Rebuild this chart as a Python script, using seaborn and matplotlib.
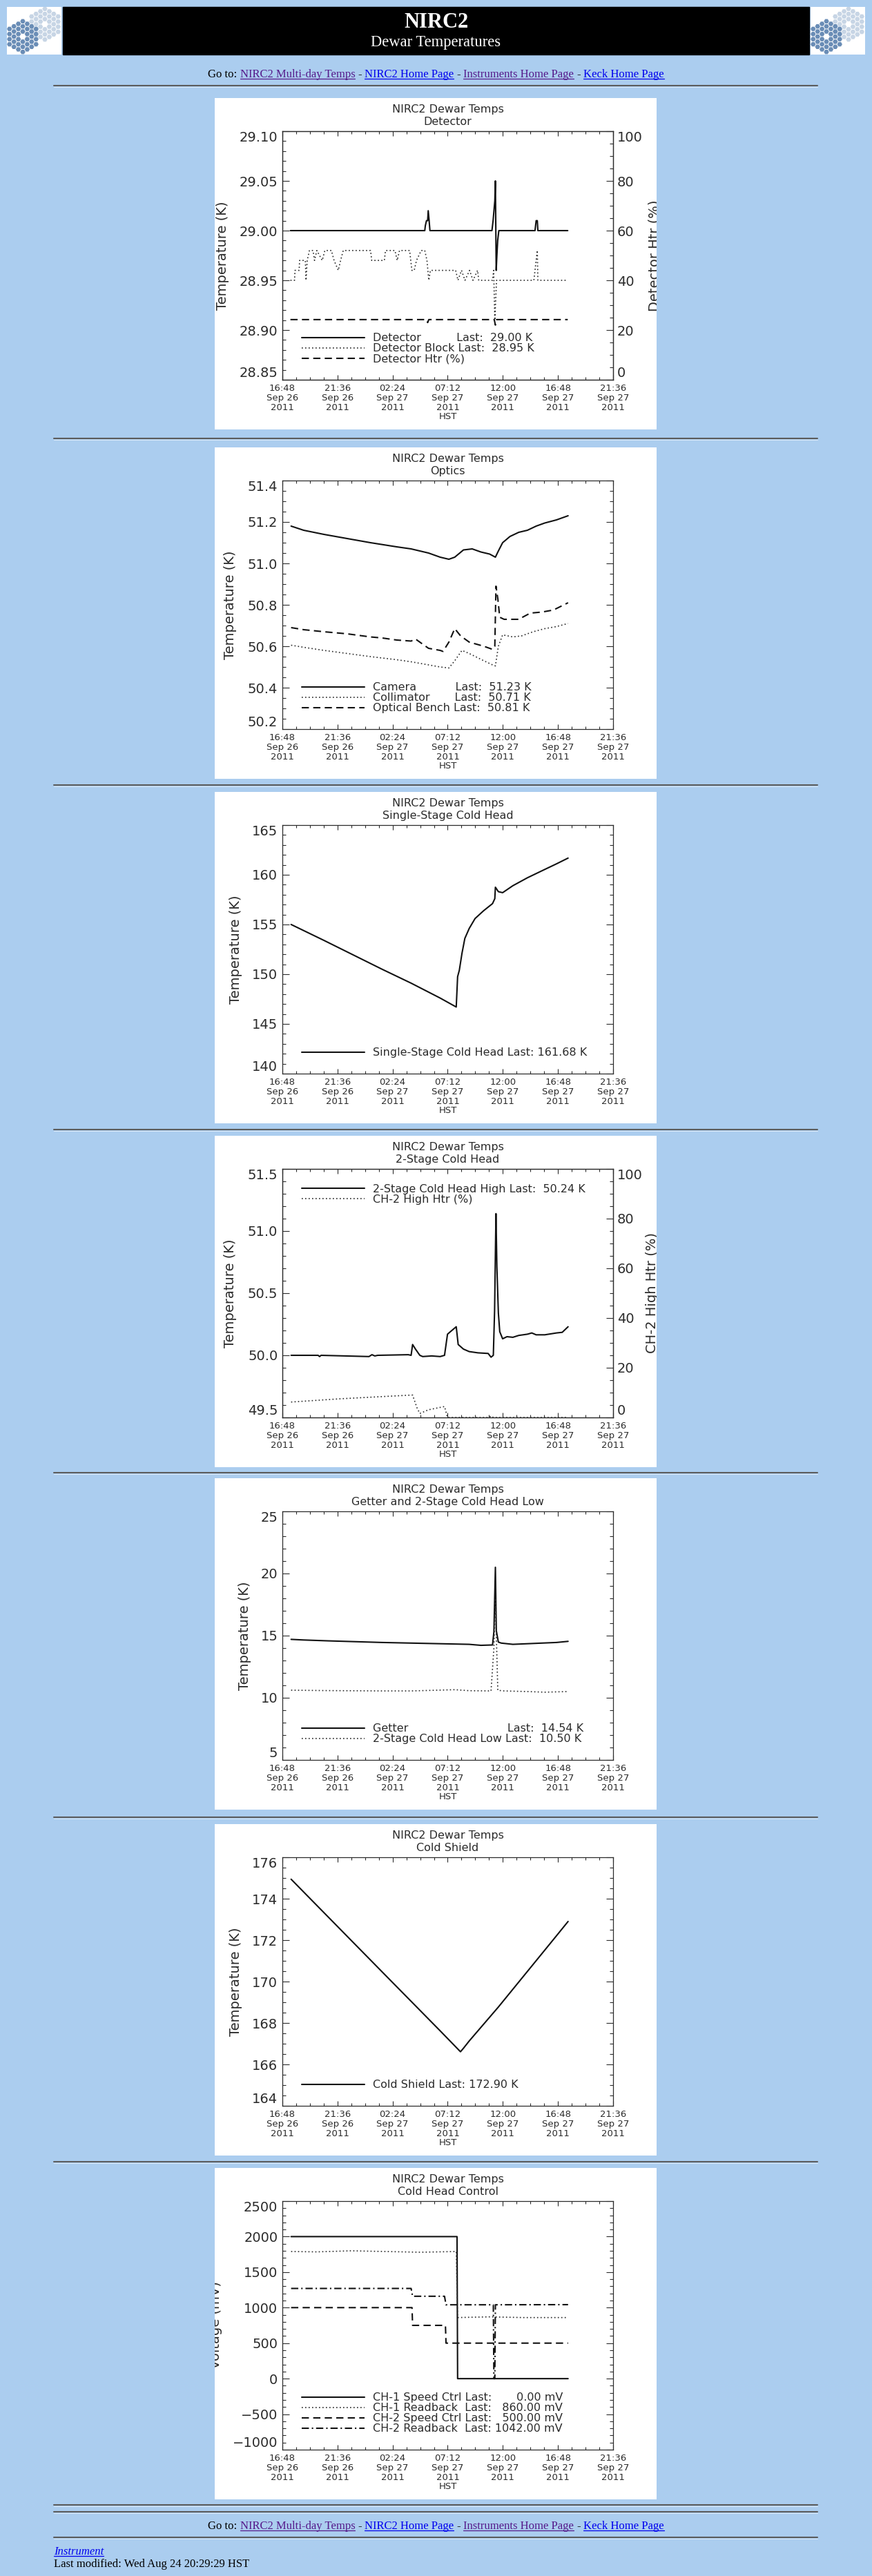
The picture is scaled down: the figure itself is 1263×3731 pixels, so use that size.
import numpy as np
import pandas as pd
import seaborn as sns
import matplotlib.pyplot as plt
import matplotlib.dates as mdates
from matplotlib.patches import Rectangle, RegularPolygon
from matplotlib.lines import Line2D
from matplotlib.ticker import MultipleLocator
from matplotlib.transforms import Bbox, TransformedBbox

W, H = 1263, 3731
BG = '#abcdef'
INK = '#2b2b2b'
LINK = '#0000ee'
VISITED = '#551a8b'
T0 = pd.Timestamp('2011-09-26 16:48')

# ---- data: hours after 16:48 Sep 26 2011 (HST) ----
time_ticks = ['2011-09-26 16:48', '2011-09-26 21:36', '2011-09-27 02:24', '2011-09-27 07:12',
              '2011-09-27 12:00', '2011-09-27 16:48', '2011-09-27 21:36']

# Detector
det_hours = [0.70, 12.40, 12.45, 12.55, 12.65, 12.70, 12.78, 12.85, 18.25, 18.35, 18.50, 18.55, 18.62,
             18.68, 18.75, 18.85, 22.00, 22.05, 22.10, 22.20, 22.25, 24.85]
det_temp = [29.00, 29.00, 29.005, 29.01, 29.01, 29.02, 29.01, 29.00, 29.00, 29.01, 29.03, 29.05, 28.96,
            28.975, 28.99, 29.00, 29.00, 29.005, 29.01, 29.01, 29.00, 29.00]
blk_hours = [0.70, 1.06, 1.10, 1.46, 1.50, 2.00, 2.06, 2.16, 2.36, 2.67, 2.80, 3.00, 3.47, 3.70, 4.27,
             4.50, 4.87, 5.07, 5.30, 7.68, 7.78, 8.88, 8.98, 9.80, 10.00, 10.20, 11.08, 11.28, 11.48,
             11.68, 12.09, 12.40, 12.59, 12.75, 12.89, 15.09, 15.29, 15.60, 15.90, 16.30, 16.60, 17.00,
             17.10, 18.30, 18.40, 18.50, 18.65, 21.90, 22.00, 22.10, 22.20, 22.25, 24.85]
blk_temp = [28.95, 28.95, 28.96, 28.96, 28.97, 28.97, 28.95, 28.97, 28.98, 28.98, 28.97, 28.98, 28.97,
            28.98, 28.98, 28.97, 28.96, 28.97, 28.98, 28.98, 28.97, 28.97, 28.98, 28.98, 28.97, 28.98,
            28.98, 28.96, 28.96, 28.97, 28.98, 28.98, 28.97, 28.95, 28.96, 28.96, 28.95, 28.96, 28.95,
            28.96, 28.95, 28.96, 28.95, 28.95, 28.96, 28.91, 28.95, 28.95, 28.96, 28.97, 28.98, 28.95,
            28.95]
dhtr_hours = [0.70, 12.55, 12.65, 12.75, 18.45, 18.55, 18.65, 24.85]
dhtr_pct = [24.2, 24.2, 23.0, 24.2, 24.2, 22.0, 24.2, 24.2]

# Optics
cam_hours = [0.76, 1.85, 3.62, 5.64, 7.67, 9.95, 11.21, 12.73, 13.74, 14.50, 15.01, 15.77, 16.53,
             17.29, 18.05, 18.55, 18.81, 19.18, 19.82, 20.58, 21.34, 22.10, 22.85, 23.87, 24.88]
cam_temp = [51.18, 51.16, 51.14, 51.12, 51.10, 51.08, 51.07, 51.05, 51.03, 51.02, 51.03, 51.065, 51.07,
            51.055, 51.045, 51.03, 51.06, 51.10, 51.13, 51.15, 51.16, 51.18, 51.195, 51.21, 51.23]
col_hours = [0.76, 1.85, 3.62, 5.64, 7.67, 9.95, 11.21, 12.73, 13.74, 14.50, 15.01, 15.64, 16.27,
             17.54, 18.30, 18.55, 18.81, 19.18, 20.07, 20.83, 21.84, 22.85, 23.87, 24.88]
col_temp = [50.605, 50.595, 50.58, 50.565, 50.55, 50.535, 50.525, 50.51, 50.50, 50.495, 50.53, 50.58,
            50.565, 50.53, 50.51, 50.505, 50.60, 50.655, 50.645, 50.65, 50.67, 50.685, 50.695, 50.71]
ben_hours = [0.76, 1.85, 3.62, 5.64, 7.67, 8.68, 9.95, 11.21, 11.59, 12.22, 12.73, 13.74, 13.99, 14.50,
             15.01, 15.52, 16.27, 17.54, 18.30, 18.50, 18.60, 18.76, 18.93, 19.31, 20.58, 21.08, 21.59,
             22.60, 23.61, 24.88]
ben_temp = [50.69, 50.68, 50.67, 50.66, 50.645, 50.64, 50.63, 50.625, 50.635, 50.61, 50.59, 50.58,
            50.575, 50.62, 50.685, 50.65, 50.62, 50.60, 50.585, 50.60, 50.89, 50.83, 50.74, 50.73,
            50.73, 50.745, 50.76, 50.765, 50.775, 50.81]

# Single-stage cold head
ss_hours = [0.76, 3.62, 8.68, 11.21, 13.74, 15.14, 15.26, 15.41, 15.64, 15.89, 16.27, 16.78, 17.54,
            18.30, 18.50, 18.55, 18.81, 19.18, 20.07, 21.34, 22.60, 23.87, 24.88]
ss_temp = [155.0, 153.4, 150.5, 149.1, 147.6, 146.7, 149.75, 150.4, 152.1, 153.6, 154.6, 155.6, 156.4,
           157.1, 157.6, 158.75, 158.3, 158.2, 158.9, 159.7, 160.4, 161.1, 161.68]

# 2-stage cold head high + heater
hi_hours = [0.76, 3.11, 3.24, 3.37, 7.54, 7.80, 8.05, 8.30, 10.96, 11.21, 11.34, 11.59, 11.97, 12.22,
            13.00, 13.74, 14.12, 14.38, 14.63, 15.14, 15.31, 15.77, 16.27, 17.03, 17.92, 18.17, 18.37,
            18.48, 18.55, 18.60, 18.68, 18.81, 18.93, 19.18, 19.56, 20.07, 20.58, 21.34, 21.72, 22.10,
            22.85, 23.87, 24.37, 24.88]
hi_temp = [50.0, 50.0, 49.99, 50.0, 49.99, 50.005, 49.995, 50.0, 50.005, 50.0, 50.087, 50.05, 50.0,
           49.99, 49.995, 49.99, 50.0, 50.17, 50.19, 50.23, 50.087, 50.05, 50.03, 50.02, 50.015, 49.985,
           50.0, 50.356, 50.82, 51.14, 50.71, 50.34, 50.19, 50.133, 50.15, 50.145, 50.16, 50.17, 50.18,
           50.165, 50.165, 50.18, 50.185, 50.23]
chtr_hours = [0.76, 5.0, 11.21, 11.34, 11.72, 11.97, 12.73, 14.12, 14.38, 18.00, 18.20, 18.37, 24.88]
chtr_pct = [6.2, 7.5, 9.0, 9.0, 3.9, 1.6, 3.1, 4.4, 0.0, 0.0, 0.6, 0.0, 0.0]

# Getter and 2-stage cold head low
get_hours = [0.76, 1.85, 4.0, 6.15, 8.68, 11.21, 13.74, 16.27, 17.29, 18.30, 18.42, 18.55, 18.63,
             18.81, 19.06, 20.07, 21.34, 22.60, 23.87, 24.88]
get_temp = [14.70, 14.65, 14.58, 14.52, 14.45, 14.40, 14.35, 14.30, 14.22, 14.25, 15.3, 20.5, 15.4,
            14.48, 14.40, 14.30, 14.35, 14.40, 14.45, 14.54]
lo_hours = [0.76, 3.62, 8.68, 11.21, 15.01, 16.27, 18.17, 18.42, 18.55, 18.63, 18.76, 19.31, 21.34,
            22.85, 24.88]
lo_temp = [10.61, 10.58, 10.55, 10.55, 10.65, 10.57, 10.55, 14.0, 18.0, 15.1, 10.6, 10.55, 10.50,
           10.45, 10.50]

# Cold shield
cs_hours = [0.76, 8.68, 13.74, 15.51, 15.77, 16.27, 18.81, 21.34, 23.87, 24.88]
cs_temp = [174.94, 170.47, 167.62, 166.61, 166.78, 167.13, 168.77, 170.49, 172.21, 172.90]

# Cold head control
c1s_hours = [0.76, 15.21, 15.26, 24.88]
c1s_mv = [2000, 2000, 0, 0]
c1r_hours = [0.76, 3.0, 6.0, 9.0, 12.0, 15.14, 15.20, 15.26, 18.0, 21.0, 24.88]
c1r_mv = [1790, 1785, 1800, 1790, 1780, 1790, 1300, 860, 870, 860, 860]
c2s_hours = [0.76, 11.29, 11.34, 14.20, 14.25, 24.88]
c2s_mv = [1000, 1000, 750, 750, 500, 500]
c2r_hours = [0.76, 11.21, 11.34, 14.12, 14.25, 18.37, 18.42, 18.50, 18.55, 24.88]
c2r_mv = [1270, 1270, 1160, 1160, 1040, 1040, 0, 0, 1040, 1042]

det_yticks = [28.85, 28.90, 28.95, 29.00, 29.05, 29.10]
opt_yticks = [50.2, 50.4, 50.6, 50.8, 51.0, 51.2, 51.4]
ss_yticks = [140, 145, 150, 155, 160, 165]
hi_yticks = [49.5, 50.0, 50.5, 51.0, 51.5]
get_yticks = [5, 10, 15, 20, 25]
cs_yticks = [164, 166, 168, 170, 172, 174, 176]
ctl_yticks = [-1000, -500, 0, 500, 1000, 1500, 2000, 2500]
pct_yticks = [0, 20, 40, 60, 80, 100]

SOLID = '-'
DOT = (0, (1, 2))
DASH = (0, (5, 3))
DASHDOT = (0, (5, 2, 1, 2))

sns.set_theme(style='ticks')
plt.rcParams['font.family'] = ['DejaVu Sans']

fig = plt.figure(figsize=(W / 100, H / 100), dpi=100, facecolor=BG)
renderer = fig.canvas.get_renderer()


def fx(x):
    return x / W


def fy(y):
    return 1 - y / H


def hr(y):
    fig.add_artist(Line2D([fx(78), fx(1184)], [fy(y), fy(y)], transform=fig.transFigure,
                          color='#5c5c5c', lw=1.5))
    fig.add_artist(Line2D([fx(78), fx(1184)], [fy(y + 1.6), fy(y + 1.6)], transform=fig.transFigure,
                          color='#dbe8f6', lw=0.7))


def logo(x0, y0):
    ax = fig.add_axes([fx(x0), fy(y0 + 69), 79 / W, 69 / H])
    ax.set_facecolor('white')
    ax.set_xlim(0, 79)
    ax.set_ylim(69, 0)
    ax.set_xticks([])
    ax.set_yticks([])
    for s in ax.spines.values():
        s.set_visible(False)
    step = 4.27
    for (cx, cy), col in [((55, 25), '#c7d5e5'), ((23, 43), '#6a8db6')]:
        for q in range(-3, 4):
            for r in range(-3, 4):
                ring = max(abs(q), abs(r), abs(q + r))
                if 1 <= ring <= 3:
                    ax.add_patch(RegularPolygon((cx + 1.5 * step * q, cy + np.sqrt(3) * step * (r + q / 2)),
                                                6, radius=3.7, orientation=np.pi / 6, color=col, lw=0))


def text_row(pieces, y_base, x_center=None, x_left=None):
    serif = dict(family='Liberation Serif', fontsize=12)
    a = fig.text(0, 0, 'a a', **serif)
    b = fig.text(0, 0, 'aa', **serif)
    gap = a.get_window_extent(renderer).width - b.get_window_extent(renderer).width
    a.remove()
    b.remove()
    items = []
    for s, col, under, style in pieces:
        t = fig.text(0, fy(y_base), s, color=col, va='baseline', style=style, **serif)
        items.append((t, t.get_window_extent(renderer).width, col, under))
    total = sum(w for _, w, _, _ in items) + gap * (len(items) - 1)
    x = x_left if x_left is not None else x_center - total / 2
    for t, w, col, under in items:
        t.set_x(fx(x))
        if under:
            fig.add_artist(Line2D([fx(x), fx(x + w)], [fy(y_base + 2.3), fy(y_base + 2.3)],
                                  transform=fig.transFigure, color=col, lw=0.9))
        x += w + gap


goto = [('Go to:', 'black', False, 'normal'), ('NIRC2 Multi-day Temps', VISITED, True, 'normal'),
        ('-', 'black', False, 'normal'), ('NIRC2 Home Page', LINK, True, 'normal'),
        ('-', 'black', False, 'normal'), ('Instruments Home Page', VISITED, True, 'normal'),
        ('-', 'black', False, 'normal'), ('Keck Home Page', LINK, True, 'normal')]

# ---- page header ----
logo(10, 10)
logo(1174, 10)
fig.add_artist(Rectangle((fx(91), fy(79)), 1081 / W, 69 / H, transform=fig.transFigure, color='black'))
fig.text(fx(631.5), fy(32), 'NIRC2', ha='center', va='center', color='white',
         family='Liberation Serif', weight='bold', fontsize=22)
fig.text(fx(631.5), fy(62), 'Dewar Temperatures', ha='center', va='center', color='white',
         family='Liberation Serif', fontsize=16.3)
text_row(goto, 112, x_center=631.5)
hr(124)

PX = 311


def to_time(hours):
    return T0 + pd.to_timedelta(hours, unit='h')


def trace(ax, hours, values, style, label):
    dotted = style == DOT
    sns.lineplot(x=to_time(hours), y=values, ax=ax, color='#111111' if not dotted else '#2a2a2a',
                 linestyle=style, linewidth=1.2 if dotted else 1.5, estimator=None, sort=False,
                 legend=False, label=label)


def edge_labels(axis):
    ticks = axis.get_major_ticks()
    for lab in (ticks[0].label1, ticks[0].label2):
        lab.set_va('bottom')
    for lab in (ticks[-1].label1, ticks[-1].label2):
        lab.set_va('top')


def style_y(ax, ticks, minor, fmt, side_pad):
    ax.set_yticks(ticks, labels=[fmt.format(v).replace('-', '\u2212') for v in ticks])
    ax.set_ylim(ticks[0], ticks[-1])
    ax.yaxis.set_minor_locator(MultipleLocator(minor))
    ax.tick_params(axis='y', which='both', direction='in', color=INK, width=0.8)
    ax.tick_params(axis='y', which='major', length=6.9, labelsize=14, pad=side_pad, labelcolor=INK)
    ax.tick_params(axis='y', which='minor', length=3.5)
    for s in ax.spines.values():
        s.set_linewidth(0.9)
        s.set_color(INK)


def panel(top, subtitle, ylabel, ylabel_px, yticks, yminor, yfmt, series, legend_pos, right=None):
    fig.add_artist(Rectangle((fx(PX), fy(top + 480)), 640 / W, 480 / H, transform=fig.transFigure,
                             facecolor='white', edgecolor='none', zorder=-1))
    clip = TransformedBbox(Bbox([[fx(PX), fy(top + 480)], [fx(PX + 640), fy(top)]]), fig.transFigure)
    ax = fig.add_axes([fx(PX + 98), fy(top + 408), 479 / W, 360 / H])
    ax.set_facecolor('white')
    ax2 = ax.twinx() if right else None
    for hours, values, style, label, side in series:
        trace(ax2 if side == 'R' else ax, hours, values, style, label)

    ax.set_xlim(T0, T0 + pd.Timedelta(hours=28.8))
    ax.set_xticks(mdates.date2num(pd.to_datetime(time_ticks).to_pydatetime()))
    ax.xaxis.set_major_formatter(mdates.DateFormatter('%H:%M\n%b %d\n%Y'))
    ax.xaxis.set_minor_locator(MultipleLocator(0.05))
    ax.tick_params(axis='x', which='both', direction='in', top=True, bottom=True, color=INK, width=0.8)
    ax.tick_params(axis='x', which='major', length=5.2, labelsize=9.5, pad=4.2, labelcolor=INK)
    ax.tick_params(axis='x', which='minor', length=2.6)
    style_y(ax, yticks, yminor, yfmt, 4.8)
    ax.tick_params(axis='y', which='both', left=True, right=right is None)
    for lab in ax.get_xticklabels():
        lab.set_linespacing(1.12)
    edge_labels(ax.yaxis)

    ax.set_xlabel('HST', fontsize=9.5, color=INK)
    ax.xaxis.set_label_coords(0.5, (408 - 455) / 360)
    ax.set_ylabel(ylabel, fontsize=14, color=INK)
    ax.yaxis.set_label_coords((ylabel_px - 98) / 479, 0.5)
    ax.yaxis.label.set_clip_box(clip)
    ax.yaxis.label.set_clip_on(True)
    ax.text(0.5, (408 - 25.5) / 360, 'NIRC2 Dewar Temps\n' + subtitle, transform=ax.transAxes,
            ha='center', va='center', fontsize=11.5, color=INK, linespacing=1.25)

    top_ax = ax
    if right:
        rlabel, rlabel_px = right
        style_y(ax2, pct_yticks, 5, '{:.0f}', 4.3)
        ax2.tick_params(axis='y', which='both', right=True, left=False)
        edge_labels(ax2.yaxis)
        ax2.set_ylabel(rlabel, fontsize=14, color=INK)
        ax2.yaxis.set_label_coords((rlabel_px - 98) / 479, 0.5)
        ax2.yaxis.label.set_clip_box(clip)
        ax2.yaxis.label.set_clip_on(True)
        top_ax = ax2

    handles = [ln for a in (ax, ax2) if a is not None for ln in a.get_lines()]
    if legend_pos == 'upper':
        loc, anchor = 'upper left', (0.0585, 0.939)
    else:
        loc, anchor = 'lower left', (0.0585, 0.063)
    top_ax.legend(handles=handles, labels=[h.get_label() for h in handles], loc=loc,
                  bbox_to_anchor=anchor, frameon=False, fontsize=11.5, handlelength=5.7,
                  handletextpad=0.75, labelspacing=0.0, borderpad=0, borderaxespad=0,
                  labelcolor=INK)


panel(142, 'Detector', 'Temperature (K)', 21, det_yticks, 0.01, '{:.2f}',
      [(det_hours, det_temp, SOLID, 'Detector' + ' ' * 10 + 'Last:  29.00 K', 'L'),
       (blk_hours, blk_temp, DOT, 'Detector Block Last:  28.95 K', 'L'),
       (dhtr_hours, dhtr_pct, DASH, 'Detector Htr (%)', 'R')],
      'lower', right=('Detector Htr (%)', 627))
hr(635)
panel(648, 'Optics', 'Temperature (K)', 32, opt_yticks, 0.05, '{:.1f}',
      [(cam_hours, cam_temp, SOLID, 'Camera' + ' ' * 11 + 'Last:  51.23 K', 'L'),
       (col_hours, col_temp, DOT, 'Collimator' + ' ' * 7 + 'Last:  50.71 K', 'L'),
       (ben_hours, ben_temp, DASH, 'Optical Bench Last:  50.81 K', 'L')],
      'lower')
hr(1137)
panel(1147, 'Single-Stage Cold Head', 'Temperature (K)', 40, ss_yticks, 1, '{:.0f}',
      [(ss_hours, ss_temp, SOLID, 'Single-Stage Cold Head Last: 161.68 K', 'L')],
      'lower')
hr(1636)
panel(1645, '2-Stage Cold Head', 'Temperature (K)', 32, hi_yticks, 0.1, '{:.1f}',
      [(hi_hours, hi_temp, SOLID, '2-Stage Cold Head High Last:  50.24 K', 'L'),
       (chtr_hours, chtr_pct, DOT, 'CH-2 High Htr (%)', 'R')],
      'upper', right=('CH-2 High Htr (%)', 624))
hr(2133)
panel(2141, 'Getter and 2-Stage Cold Head Low', 'Temperature (K)', 53, get_yticks, 1, '{:.0f}',
      [(get_hours, get_temp, SOLID, 'Getter' + ' ' * 28 + 'Last:  14.54 K', 'L'),
       (lo_hours, lo_temp, DOT, '2-Stage Cold Head Low Last:  10.50 K', 'L')],
      'lower')
hr(2632)
panel(2642, 'Cold Shield', 'Temperature (K)', 40, cs_yticks, 0.5, '{:.0f}',
      [(cs_hours, cs_temp, SOLID, 'Cold Shield Last: 172.90 K', 'L')],
      'lower')
hr(3131)
panel(3140, 'Cold Head Control', 'Voltage (mV)', 11, ctl_yticks, 100, '{:.0f}',
      [(c1s_hours, c1s_mv, SOLID, 'CH-1 Speed Ctrl Last:' + ' ' * 7 + '0.00 mV', 'L'),
       (c1r_hours, c1r_mv, DOT, 'CH-1 Readback  Last:   860.00 mV', 'L'),
       (c2s_hours, c2s_mv, DASH, 'CH-2 Speed Ctrl Last:   500.00 mV', 'L'),
       (c2r_hours, c2r_mv, DASHDOT, 'CH-2 Readback  Last: 1042.00 mV', 'L')],
      'lower')

# ---- page footer ----
hr(3628)
hr(3638)
text_row(goto, 3662.7, x_center=631.5)
hr(3675)
text_row([('Instrument', LINK, True, 'italic')], 3700, x_left=78)
text_row([('Last modified: Wed Aug 24 20:29:29 HST', 'black', False, 'normal')], 3718.3, x_left=78)

fig.savefig('out.png', dpi=100, facecolor=BG)
